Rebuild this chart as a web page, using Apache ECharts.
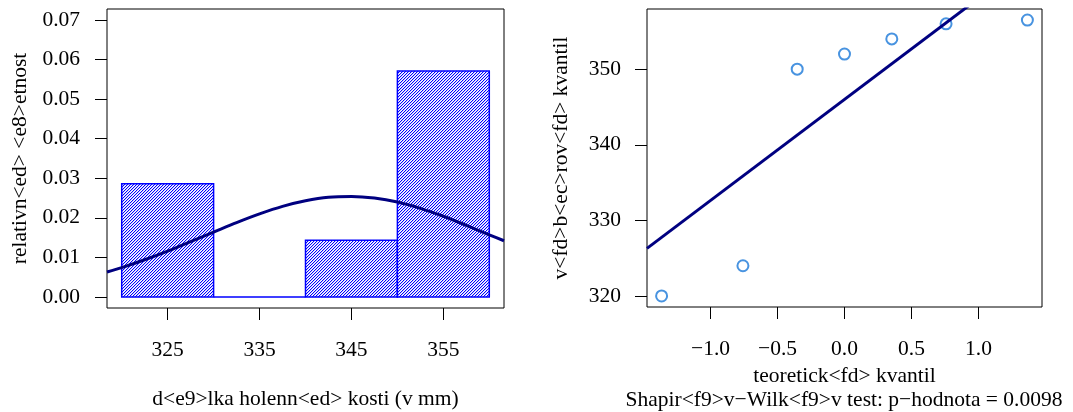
<!DOCTYPE html>
<html>
<head>
<meta charset="utf-8">
<script src="https://cdn.jsdelivr.net/npm/echarts@6/dist/echarts.min.js"></script>
<style>
  html, body { margin: 0; padding: 0; background: #fff; }
  #chart { width: 1073px; height: 412px; }
</style>
</head>
<body>
<div id="chart"></div>
<script>
// histogram: bin edges and density per bin
var binStart = [320, 330, 340, 350];
var binEnd = [330, 340, 350, 360];
var binDensity = [0.0286, 0, 0.0143, 0.0571];

// fitted normal curve
var curveX = [318.4, 320, 322.5, 325, 327.5, 330, 332.5, 335, 337.5, 340, 342.5, 345, 347.5, 350, 352.5, 355, 357.5, 360, 361.6];
var curveY = [0.0063, 0.0074, 0.0094, 0.0116, 0.0140, 0.0164, 0.0188, 0.0210, 0.0229, 0.0243, 0.0252, 0.0254, 0.0250, 0.0240, 0.0224, 0.0204, 0.0181, 0.0157, 0.0142];

// QQ plot
var qqTheor = [-1.365, -0.758, -0.353, 0, 0.353, 0.758, 1.365];
var qqSample = [320, 324, 350, 352, 354, 356, 356.5];
var qqLineX = [-1.474, 1.474];
var qqLineY = [326.3, 365.7];

// tick labels
var histXTicks = [325, 335, 345, 355];
var histYTicks = [0, 0.01, 0.02, 0.03, 0.04, 0.05, 0.06, 0.07];
var histYLabels = ['0.00', '0.01', '0.02', '0.03', '0.04', '0.05', '0.06', '0.07'];
var qqXTicks = [-1, -0.5, 0, 0.5, 1];
var qqXLabels = ['\u22121.0', '\u22120.5', '0.0', '0.5', '1.0'];
var qqYTicks = [320, 330, 340, 350];

var serif = "'Liberation Serif', 'DejaVu Serif', serif";
var fs = 21.5;

// diagonal hatching tile
var tile = document.createElement('canvas');
tile.width = 3;
tile.height = 3;
var tctx = tile.getContext('2d');
tctx.fillStyle = '#fff';
tctx.fillRect(0, 0, 3, 3);
for (var i = 0; i < 3; i++) {
    for (var j = 0; j < 3; j++) {
        if ((i + j) % 3 == 2) {
            tctx.fillStyle = '#0000ff';
            tctx.fillRect(i, j, 1, 1);
        } else if ((i + j) % 3 == 0) {
            tctx.fillStyle = '#c8c8ff';
            tctx.fillRect(i, j, 1, 1);
        }
    }
}

function pick(ticks, labels) {
    return function (v) {
        var best = 0;
        for (var k = 0; k < ticks.length; k++) {
            if (Math.abs(ticks[k] - v) < Math.abs(ticks[best] - v)) best = k;
        }
        return labels[best];
    };
}

var binData = binStart.map(function (s, i) { return [s, binEnd[i], binDensity[i]]; });
var curveData = curveX.map(function (x, i) { return [x, curveY[i]]; });
var qqData = qqTheor.map(function (x, i) { return [x, qqSample[i]]; });
var qqLineData = qqLineX.map(function (x, i) { return [x, qqLineY[i]]; });

var labelStyle = { color: '#000', fontFamily: serif, fontSize: fs };
var tickStyle = { show: true, length: 12, lineStyle: { color: '#000', width: 1 } };
var nameStyle = { color: '#000', fontFamily: serif, fontSize: fs };
var noLine = { show: false, onZero: false };

var chart = echarts.init(document.getElementById('chart'));
chart.setOption({
    animation: false,
    backgroundColor: '#fff',
    grid: [
        { left: 107, top: 9, width: 397, height: 299, outerBoundsMode: 'none', containLabel: false, show: true, borderColor: '#000', borderWidth: 1, backgroundColor: 'transparent' },
        { left: 647, top: 9, width: 395, height: 298, outerBoundsMode: 'none', containLabel: false, show: true, borderColor: '#000', borderWidth: 1, backgroundColor: 'transparent' }
    ],
    xAxis: [
        {
            gridIndex: 0, type: 'value', min: 318.4, max: 361.6,
            axisLine: noLine, splitLine: { show: false },
            axisTick: Object.assign({ customValues: histXTicks }, tickStyle),
            axisLabel: Object.assign({ customValues: histXTicks, margin: 31 }, labelStyle),
            name: 'd<e9>lka holenn<ed> kosti (v mm)', nameLocation: 'middle', nameGap: 80,
            nameTextStyle: nameStyle
        },
        {
            gridIndex: 1, type: 'value', min: -1.474, max: 1.474,
            axisLine: noLine, splitLine: { show: false },
            axisTick: Object.assign({ customValues: qqXTicks }, tickStyle),
            axisLabel: Object.assign({ customValues: qqXTicks, margin: 31, formatter: pick(qqXTicks, qqXLabels) }, labelStyle),
            name: 'teoretick<fd> kvantil', nameLocation: 'middle', nameGap: 55,
            nameTextStyle: nameStyle
        }
    ],
    yAxis: [
        {
            gridIndex: 0, type: 'value', min: -0.0028, max: 0.0728,
            axisLine: noLine, splitLine: { show: false },
            axisTick: Object.assign({ customValues: histYTicks }, tickStyle),
            axisLabel: Object.assign({ customValues: histYTicks, margin: 27, formatter: pick(histYTicks, histYLabels) }, labelStyle),
            name: 'relativn<ed> <e8>etnost', nameLocation: 'middle', nameGap: 76,
            nameTextStyle: nameStyle
        },
        {
            gridIndex: 1, type: 'value', min: 318.54, max: 357.96,
            axisLine: noLine, splitLine: { show: false },
            axisTick: Object.assign({ customValues: qqYTicks }, tickStyle),
            axisLabel: Object.assign({ customValues: qqYTicks, margin: 26 }, labelStyle),
            name: 'v<fd>b<ec>rov<fd> kvantil', nameLocation: 'middle', nameGap: 75,
            nameTextStyle: nameStyle
        }
    ],
    graphic: [
        {
            type: 'text', x: 844, y: 400,
            style: {
                text: 'Shapir<f9>v\u2212Wilk<f9>v test: p\u2212hodnota = 0.0098',
                fill: '#000', font: fs + 'px ' + serif,
                align: 'center', verticalAlign: 'middle'
            }
        }
    ],
    series: [
        {
            type: 'custom',
            xAxisIndex: 0, yAxisIndex: 0,
            data: binData,
            encode: { x: [0, 1], y: 2 },
            renderItem: function (params, api) {
                var p0 = api.coord([api.value(0), api.value(2)]);
                var p1 = api.coord([api.value(1), 0]);
                return {
                    type: 'rect',
                    shape: { x: p0[0], y: p0[1], width: p1[0] - p0[0], height: p1[1] - p0[1] },
                    style: { fill: { image: tile, repeat: 'repeat' }, stroke: '#0000ff', lineWidth: 1.5 }
                };
            }
        },
        {
            type: 'line',
            xAxisIndex: 0, yAxisIndex: 0,
            data: curveData,
            smooth: 0.3,
            showSymbol: false,
            lineStyle: { color: '#000080', width: 3 }
        },
        {
            type: 'line',
            xAxisIndex: 1, yAxisIndex: 1,
            data: qqLineData,
            showSymbol: false,
            clip: true,
            lineStyle: { color: '#000080', width: 3 }
        },
        {
            type: 'scatter',
            xAxisIndex: 1, yAxisIndex: 1,
            data: qqData,
            symbol: 'emptyCircle',
            symbolSize: 11,
            itemStyle: { color: '#1a78d8', borderWidth: 1.8 }
        }
    ]
});
</script>
</body>
</html>
